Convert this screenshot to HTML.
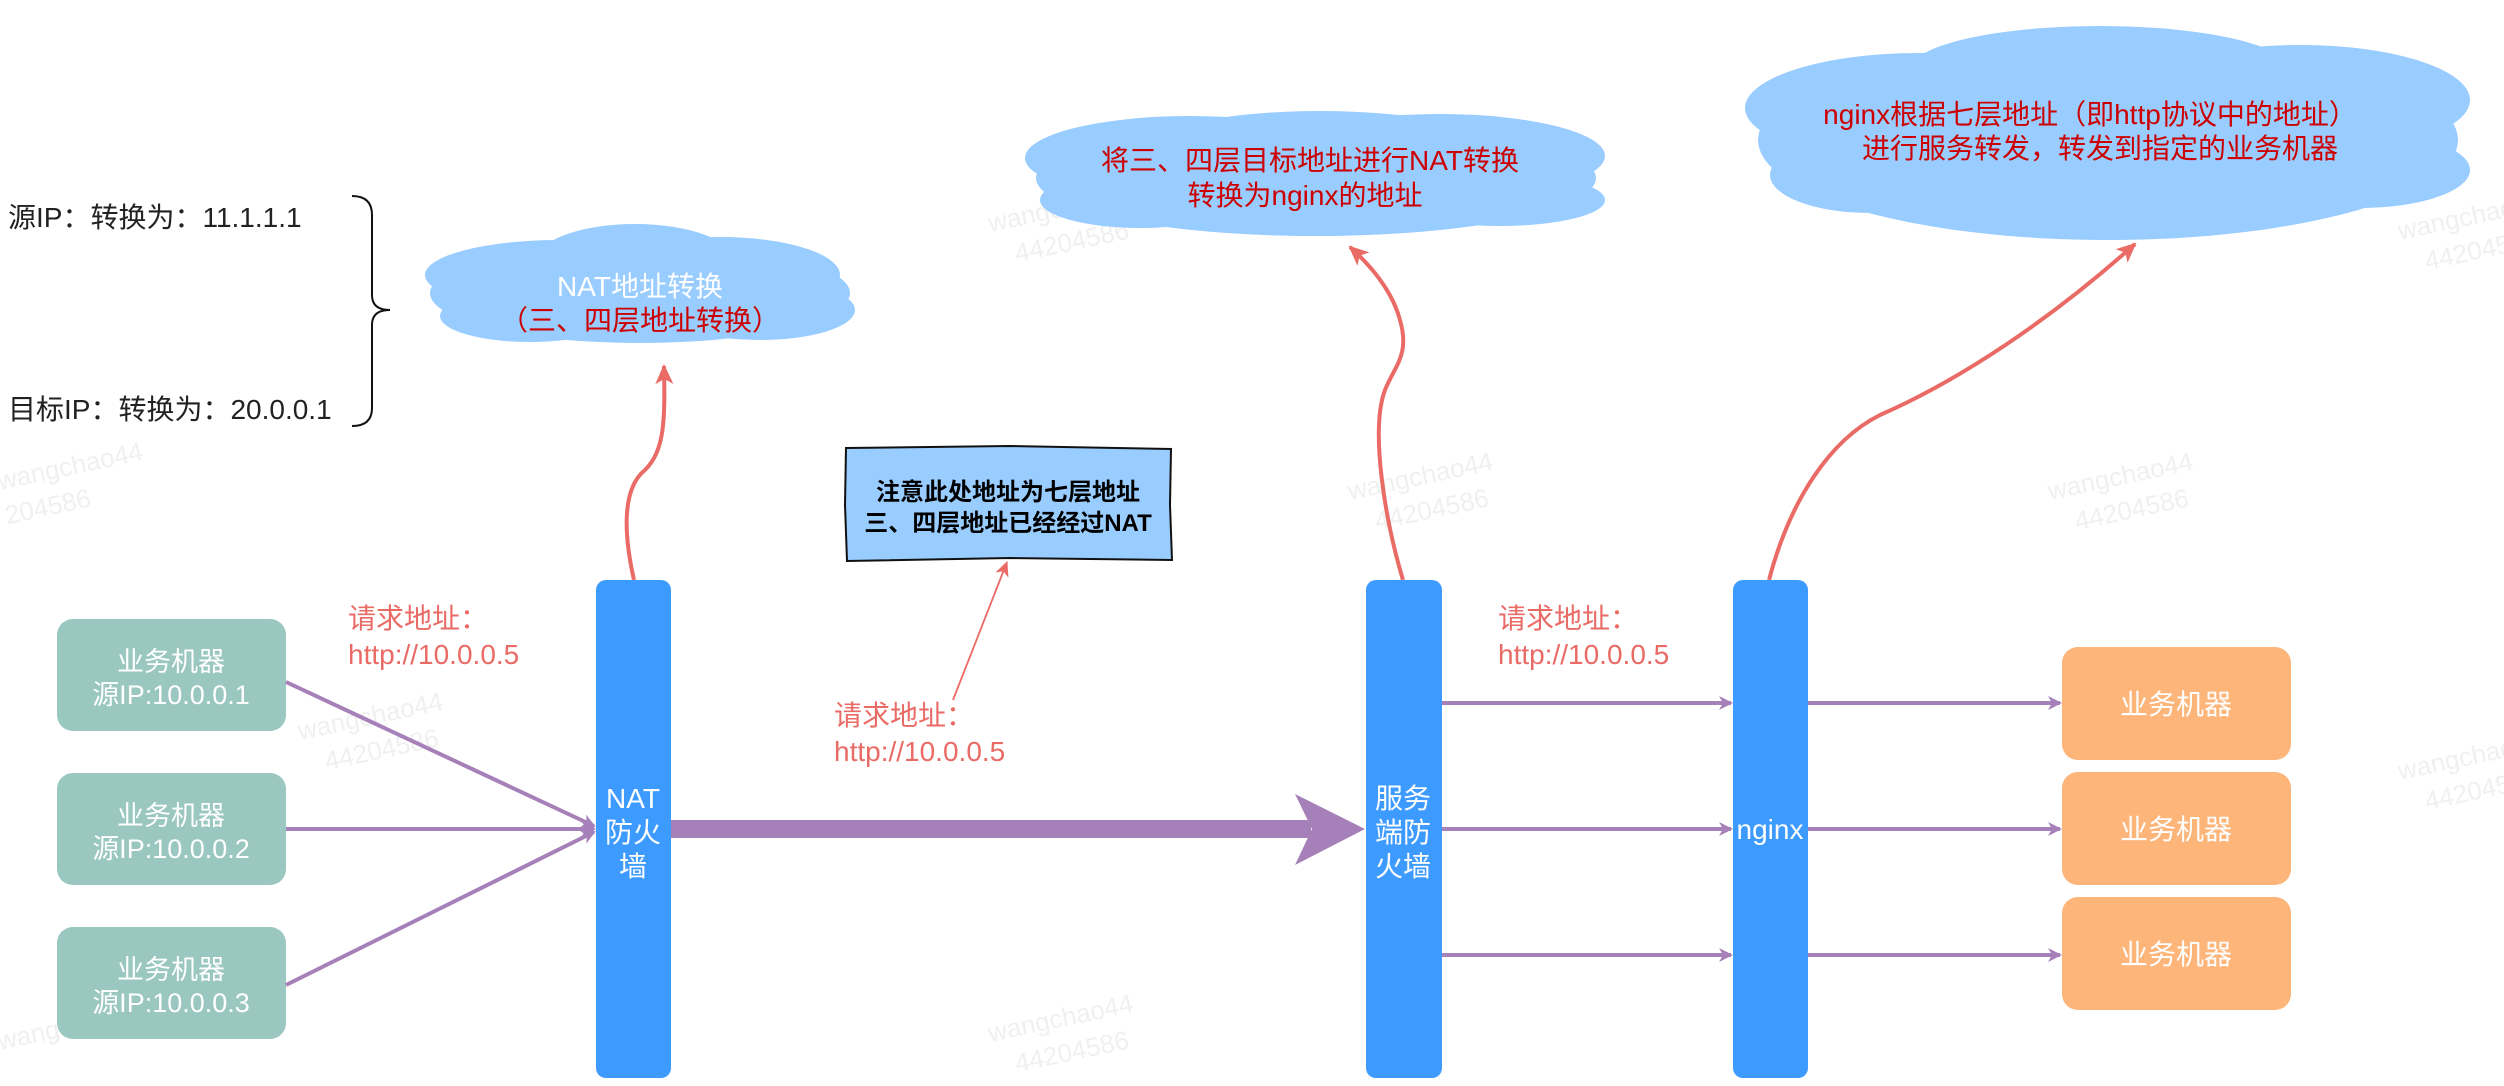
<!DOCTYPE html>
<html><head><meta charset="utf-8"><style>
html,body{margin:0;padding:0;background:#fff}
svg{display:block}
text{font-family:"Liberation Sans","Noto Sans CJK SC",sans-serif}
</style></head><body>
<svg width="2504" height="1086" viewBox="0 0 2504 1086" xmlns="http://www.w3.org/2000/svg">
<defs>
<marker id="pa" markerWidth="14" markerHeight="14" refX="12" refY="7" orient="auto" markerUnits="userSpaceOnUse">
<path d="M0,0 L14,7 L0,14 L4,7 Z" fill="#a680b8"/></marker>
<marker id="ra" markerWidth="22" markerHeight="22" refX="18" refY="11" orient="auto" markerUnits="userSpaceOnUse">
<path d="M0,2 L20,11 L0,20 L5,11 Z" fill="#ea6b66"/></marker>
<marker id="ra2" markerWidth="16" markerHeight="16" refX="14" refY="8" orient="auto" markerUnits="userSpaceOnUse">
<path d="M0,1 L15,8 L0,15 L4,8 Z" fill="#ea6b66"/></marker>
</defs>

<!-- watermarks -->
<g fill="#f0f0f0" font-size="26" >
<g transform="rotate(-12 1000 230)"><text x="990" y="230">wangchao44</text><text x="1010" y="265">44204586</text></g>
<g transform="rotate(-12 1000 1040)"><text x="990" y="1040">wangchao44</text><text x="1010" y="1075">44204586</text></g>
<g transform="rotate(-12 300 740)"><text x="300" y="740">wangchao44</text><text x="320" y="775">44204586</text></g>
<g transform="rotate(-12 1350 500)"><text x="1350" y="500">wangchao44</text><text x="1370" y="535">44204586</text></g>
<g transform="rotate(-12 2050 500)"><text x="2050" y="500">wangchao44</text><text x="2070" y="535">44204586</text></g>
<g transform="rotate(-12 0 490)"><text x="0" y="490">wangchao44</text><text x="0" y="525">204586</text></g>
<g transform="rotate(-12 0 1050)"><text x="0" y="1050">wangchao44</text></g>
<g transform="rotate(-12 2400 240)"><text x="2400" y="240">wangchao44</text><text x="2420" y="275">44204586</text></g>
<g transform="rotate(-12 2400 780)"><text x="2400" y="780">wangchao44</text><text x="2420" y="815">44204586</text></g>
</g>

<!-- left text and brace -->
<text x="8" y="227" font-size="28" fill="#222">源IP：转换为：11.1.1.1</text>
<text x="8" y="419" font-size="28" fill="#222">目标IP：转换为：20.0.0.1</text>
<path d="M352,196 Q372,196 372,215 L372,295 Q372,310 390,310 Q372,310 372,325 L372,408 Q372,426 352,426" fill="none" stroke="#111" stroke-width="2"/>

<!-- clouds -->
<g fill="#99ccff">
<ellipse cx="640" cy="293" rx="210" ry="50"/>
<ellipse cx="560" cy="275" rx="135" ry="35"/>
<ellipse cx="720" cy="275" rx="120" ry="38"/>
<ellipse cx="635" cy="262" rx="100" ry="38"/>
<ellipse cx="760" cy="310" rx="95" ry="30"/>
<ellipse cx="530" cy="316" rx="90" ry="26"/>

<ellipse cx="1316" cy="178" rx="280" ry="58"/>
<ellipse cx="1190" cy="158" rx="165" ry="42"/>
<ellipse cx="1440" cy="156" rx="165" ry="42"/>
<ellipse cx="1320" cy="135" rx="140" ry="24"/>
<ellipse cx="1500" cy="200" rx="105" ry="26"/>
<ellipse cx="1140" cy="200" rx="100" ry="28"/>

<ellipse cx="2108" cy="140" rx="350" ry="100"/>
<ellipse cx="1920" cy="108" rx="175" ry="55"/>
<ellipse cx="2300" cy="100" rx="170" ry="55"/>
<ellipse cx="2100" cy="70" rx="190" ry="44"/>
<ellipse cx="2360" cy="170" rx="110" ry="38"/>
<ellipse cx="1870" cy="175" rx="100" ry="38"/>
</g>
<text x="640" y="296" font-size="28" fill="#fff" text-anchor="middle">NAT地址转换</text>
<text x="640" y="330" font-size="28" fill="#cc0000" text-anchor="middle">（三、四层地址转换）</text>
<text x="1310" y="170" font-size="28" fill="#cc0000" text-anchor="middle">将三、四层目标地址进行NAT转换</text>
<text x="1305" y="205" font-size="28" fill="#cc0000" text-anchor="middle">转换为nginx的地址</text>
<text x="2090" y="124" font-size="28" fill="#cc0000" text-anchor="middle">nginx根据七层地址（即http协议中的地址）</text>
<text x="2100" y="158" font-size="28" fill="#cc0000" text-anchor="middle">进行服务转发，转发到指定的业务机器</text>

<!-- note box -->
<path d="M846,448 L1010,446 L1171,449 L1170,505 L1172,560 L1010,558 L847,561 L845,505 Z" fill="#99ccff" stroke="#111" stroke-width="2"/>
<text x="1008" y="500" font-size="24" font-weight="bold" fill="#000" text-anchor="middle">注意此处地址为七层地址</text>
<text x="1008" y="531" font-size="24" font-weight="bold" fill="#000" text-anchor="middle">三、四层地址已经经过NAT</text>
<line x1="953" y1="700" x2="1007" y2="562" stroke="#ea6b66" stroke-width="1.8" marker-end="url(#ra2)"/>

<!-- red curved arrows -->
<path d="M634,580 C625,540 620,490 645,470 C665,450 665,420 664,366" fill="none" stroke="#ea6b66" stroke-width="4" marker-end="url(#ra)"/>
<path d="M1403,580 C1385,520 1370,430 1385,390 C1395,365 1410,355 1400,320 C1392,290 1370,265 1350,247" fill="none" stroke="#ea6b66" stroke-width="4" marker-end="url(#ra)"/>
<path d="M1769,580 C1790,500 1830,440 1880,415 C1960,380 2050,320 2135,244" fill="none" stroke="#ea6b66" stroke-width="4" marker-end="url(#ra)"/>

<!-- green boxes -->
<g fill="#9ac7bf">
<rect x="57" y="619" width="229" height="112" rx="16"/>
<rect x="57" y="773" width="229" height="112" rx="16"/>
<rect x="57" y="927" width="229" height="112" rx="16"/>
</g>
<g fill="#fff" font-size="27" text-anchor="middle">
<text x="171" y="671">业务机器</text><text x="171" y="704">源IP:10.0.0.1</text>
<text x="171" y="825">业务机器</text><text x="171" y="858">源IP:10.0.0.2</text>
<text x="171" y="979">业务机器</text><text x="171" y="1012">源IP:10.0.0.3</text>
</g>

<!-- purple lines -->
<g stroke="#a680b8" stroke-width="4" fill="none">
<line x1="286" y1="682" x2="594" y2="826" marker-end="url(#pa)"/>
<line x1="286" y1="829" x2="594" y2="829" marker-end="url(#pa)"/>
<line x1="286" y1="985" x2="594" y2="832" marker-end="url(#pa)"/>
<line x1="1442" y1="703" x2="1731" y2="703" marker-end="url(#pa)"/>
<line x1="1442" y1="829" x2="1731" y2="829" marker-end="url(#pa)"/>
<line x1="1442" y1="955" x2="1731" y2="955" marker-end="url(#pa)"/>
<line x1="1808" y1="703" x2="2060" y2="703" marker-end="url(#pa)"/>
<line x1="1808" y1="829" x2="2060" y2="829" marker-end="url(#pa)"/>
<line x1="1808" y1="955" x2="2060" y2="955" marker-end="url(#pa)"/>
</g>
<!-- thick arrow -->
<rect x="671" y="820" width="640" height="18" fill="#a680b8"/>
<path d="M1295,794 L1365,829 L1295,865 L1312,829 Z" fill="#a680b8"/>

<!-- walls -->
<g fill="#3d9bff">
<rect x="596" y="580" width="75" height="498" rx="10"/>
<rect x="1366" y="580" width="76" height="498" rx="10"/>
<rect x="1733" y="580" width="75" height="498" rx="10"/>
</g>
<g fill="#fff" font-size="28" text-anchor="middle">
<text x="633" y="808">NAT</text><text x="633" y="842">防火</text><text x="633" y="876">墙</text>
<text x="1403" y="808">服务</text><text x="1403" y="842">端防</text><text x="1403" y="876">火墙</text>
<text x="1770" y="839">nginx</text>
</g>

<!-- orange boxes -->
<g fill="#fdb57a">
<rect x="2062" y="647" width="229" height="113" rx="16"/>
<rect x="2062" y="772" width="229" height="113" rx="16"/>
<rect x="2062" y="897" width="229" height="113" rx="16"/>
</g>
<g fill="#fff" font-size="28" text-anchor="middle">
<text x="2176" y="714">业务机器</text><text x="2176" y="839">业务机器</text><text x="2176" y="964">业务机器</text>
</g>

<!-- red labels -->
<g fill="#ea6b66" font-size="28">
<text x="348" y="628">请求地址：</text><text x="348" y="664">http://10.0.0.5</text>
<text x="834" y="725">请求地址：</text><text x="834" y="761">http://10.0.0.5</text>
<text x="1498" y="628">请求地址：</text><text x="1498" y="664">http://10.0.0.5</text>
</g>
</svg>
</body></html>
